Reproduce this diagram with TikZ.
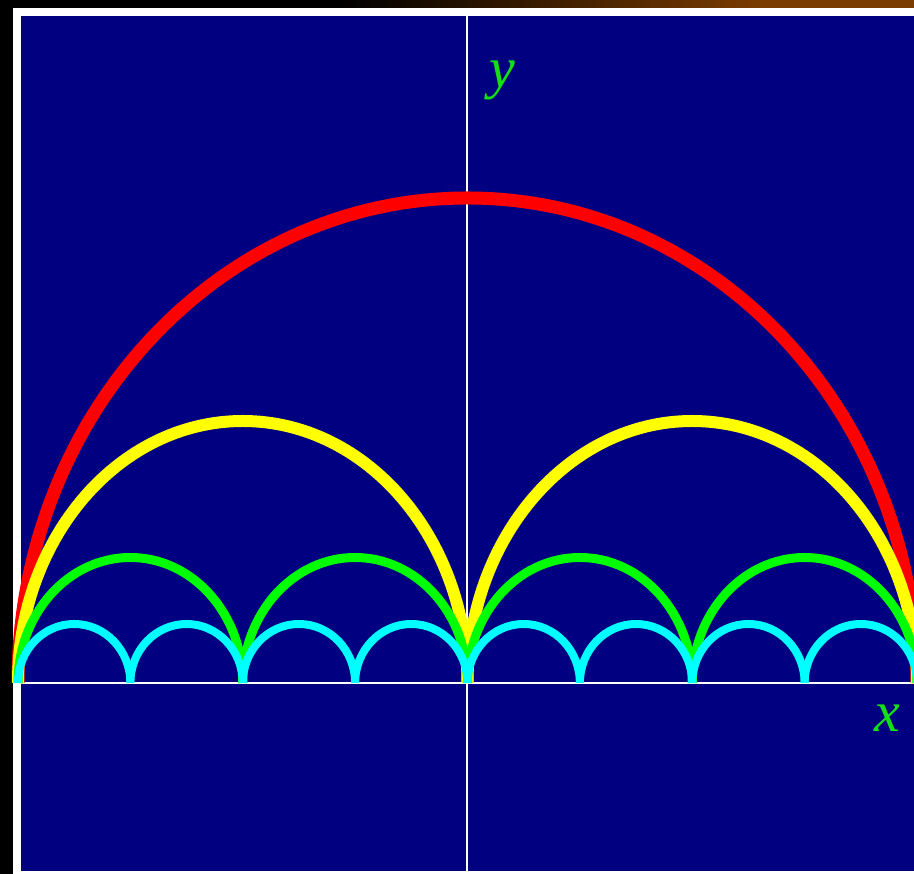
\documentclass[tikz,border=0pt]{standalone}
\usepackage{fontspec}
\setmainfont{Liberation Serif}
\definecolor{navybg}{RGB}{0,0,128}
\definecolor{brownband}{RGB}{122,60,0}
\definecolor{labelgreen}{RGB}{20,225,20}
\definecolor{arcred}{RGB}{255,0,0}
\definecolor{arcyellow}{RGB}{255,255,0}
\definecolor{arcgreen}{RGB}{0,255,0}
\definecolor{arccyan}{RGB}{0,255,255}
\tikzset{
  axisline/.style={draw=white, line width=2pt},
  axislabel/.style={text=labelgreen, font=\fontsize{58}{60}\selectfont\itshape, inner sep=0pt, anchor=base},
}
\begin{document}
\begin{tikzpicture}[x=1pt,y=1pt]
\useasboundingbox (0,0) rectangle (914,874);
\clip (0,0) rectangle (914,874);
\fill[black] (0,0) rectangle (914,874);
\shade[left color=black, right color=brownband] (340,866) rectangle (760,874);
\fill[brownband] (760,866) rectangle (914,874);
\fill[white] (13,0) rectangle (914,866);
\fill[navybg] (21,3) rectangle (914,858);
% axes
\coordinate (xl) at (21,191);
\coordinate (xr) at (914,191);
\coordinate (yb) at (467,3);
\coordinate (yt) at (467,858);
\draw[axisline] (xl) -- (xr);
\draw[axisline] (yb) -- (yt);
% arcs
\draw[arcred, line width=13pt] (18,191) arc[start angle=180, end angle=0, x radius=449.5, y radius=485];
\foreach \k in {0,1}{
  \draw[arcyellow, line width=12pt] ({18+449.5*\k},191) arc[start angle=180, end angle=0, x radius=224.75, y radius=262];
}
\foreach \k in {0,...,3}{
  \draw[arcgreen, line width=9pt] ({18+224.75*\k},191) arc[start angle=180, end angle=0, x radius=112.375, y radius=125.5];
}
\foreach \k in {0,...,7}{
  \draw[arccyan, line width=8pt] ({18+112.375*\k},191) arc[start angle=180, end angle=0, x radius=56.19, y radius=59];
}
\node[axislabel] (ylab) at (502,786) {y};
\node[axislabel] (xlab) at (887,142) {x};
\end{tikzpicture}
\end{document}
